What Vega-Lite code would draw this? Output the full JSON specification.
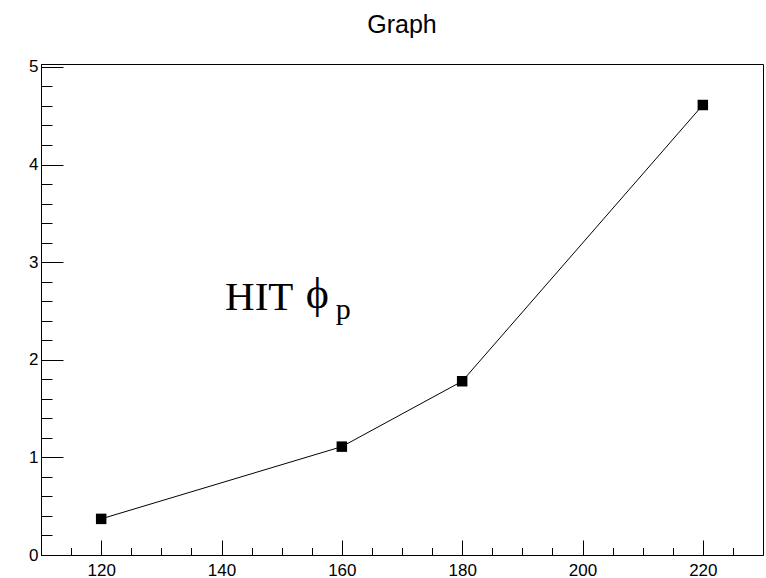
{
  "$schema": "https://vega.github.io/schema/vega-lite/v6.json",
  "width": 722,
  "height": 491,
  "autosize": "none",
  "padding": {"left": 41, "top": 64, "right": 3, "bottom": 23},
  "background": "white",
  "config": {
    "view": {"stroke": "black", "strokeWidth": 1},
    "font": "Liberation Sans"
  },
  "title": {
    "text": "Graph",
    "fontSize": 25,
    "fontWeight": "normal",
    "font": "Liberation Sans",
    "color": "black",
    "anchor": "middle",
    "baseline": "alphabetic",
    "offset": 0
  },
  "datasets": {
    "pts": [
      {"x": 120, "y": 0.37},
      {"x": 160, "y": 1.11},
      {"x": 180, "y": 1.78},
      {"x": 220, "y": 4.61}
    ],
    "annot": [
      {"x": 140.6, "y": 2.51, "text": "HIT", "part": "main"},
      {"x": 154.0, "y": 2.53, "text": "ϕ", "part": "sym"},
      {"x": 159.0, "y": 2.42, "text": "p", "part": "sub"}
    ]
  },
  "resolve": {"axis": {"x": "independent", "y": "independent"}},
  "layer": [
    {
      "data": {"name": "pts"},
      "mark": {"type": "line", "color": "black", "strokeWidth": 1},
      "encoding": {
        "x": {
          "field": "x", "type": "quantitative",
          "scale": {"domain": [110, 230], "nice": false, "zero": false},
          "axis": {
            "title": null, "grid": false, "orient": "bottom",
            "values": [120, 140, 160, 180, 200, 220],
            "format": "d",
            "tickSize": -15,
            "domainColor": "black", "tickColor": "black", "tickWidth": 1,
            "labelColor": "black", "labelFontSize": 17, "labelFont": "Liberation Sans",
            "labelPadding": 22, "labelFlush": false, "labelOverlap": false
          }
        },
        "y": {
          "field": "y", "type": "quantitative",
          "scale": {"domain": [0, 5.03], "nice": false, "zero": false},
          "axis": {
            "title": null, "grid": false, "orient": "left",
            "values": [0, 1, 2, 3, 4, 5],
            "format": "d",
            "tickSize": -22,
            "domainColor": "black", "tickColor": "black", "tickWidth": 1,
            "labelColor": "black", "labelFontSize": 17, "labelFont": "Liberation Sans",
            "labelPadding": 25, "labelFlush": false, "labelOverlap": false
          }
        }
      }
    },
    {
      "data": {"name": "pts"},
      "mark": {"type": "point", "shape": "square", "filled": true, "color": "black", "opacity": 1, "size": 110},
      "encoding": {
        "x": {
          "field": "x", "type": "quantitative",
          "axis": {
            "title": null, "grid": false, "orient": "bottom", "labels": false, "domain": false,
            "values": [115,125,130,135,145,150,155,165,170,175,185,190,195,205,210,215,225],
            "tickSize": -7.5, "tickColor": "black", "tickWidth": 1
          }
        },
        "y": {
          "field": "y", "type": "quantitative",
          "axis": {
            "title": null, "grid": false, "orient": "left", "labels": false, "domain": false,
            "values": [0.2,0.4,0.6,0.8,1.2,1.4,1.6,1.8,2.2,2.4,2.6,2.8,3.2,3.4,3.6,3.8,4.2,4.4,4.6,4.8],
            "tickSize": -11, "tickColor": "black", "tickWidth": 1
          }
        }
      }
    },
    {
      "data": {"name": "annot"},
      "transform": [{"filter": "datum.part === 'main'"}],
      "mark": {"type": "text", "font": "Liberation Serif", "fontSize": 41, "align": "left", "baseline": "alphabetic", "color": "black"},
      "encoding": {
        "x": {"field": "x", "type": "quantitative", "axis": null},
        "y": {"field": "y", "type": "quantitative", "axis": null},
        "text": {"field": "text"}
      }
    },
    {
      "data": {"name": "annot"},
      "transform": [{"filter": "datum.part === 'sym'"}],
      "mark": {"type": "text", "font": "Liberation Serif", "fontSize": 44, "align": "left", "baseline": "alphabetic", "color": "black"},
      "encoding": {
        "x": {"field": "x", "type": "quantitative", "axis": null},
        "y": {"field": "y", "type": "quantitative", "axis": null},
        "text": {"field": "text"}
      }
    },
    {
      "data": {"name": "annot"},
      "transform": [{"filter": "datum.part === 'sub'"}],
      "mark": {"type": "text", "font": "Liberation Serif", "fontSize": 30, "align": "left", "baseline": "alphabetic", "color": "black"},
      "encoding": {
        "x": {"field": "x", "type": "quantitative", "axis": null},
        "y": {"field": "y", "type": "quantitative", "axis": null},
        "text": {"field": "text"}
      }
    }
  ]
}
